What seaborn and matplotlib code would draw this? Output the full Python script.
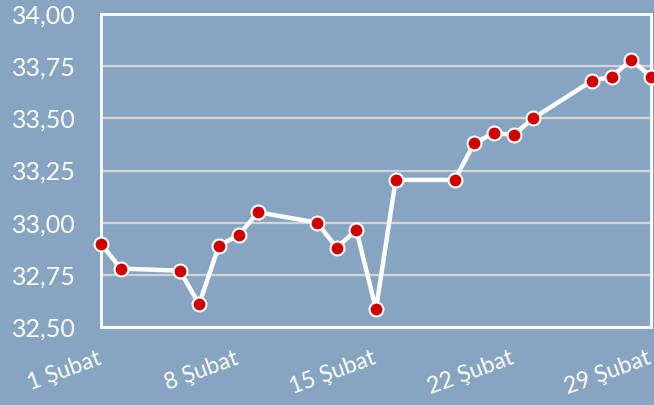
import pandas as pd
import matplotlib
matplotlib.use("Agg")
import matplotlib.pyplot as plt
import matplotlib.ticker as mticker
import matplotlib.transforms as mtransforms
import seaborn as sns

# Şubat 2024 günleri ve değerler
days = [1, 2, 5, 6, 7, 8, 9, 12, 13, 14, 15, 16, 19, 20, 21, 22, 23, 26, 27, 28, 29]
values = [32.90, 32.78, 32.77, 32.61, 32.89, 32.94, 33.05, 33.00, 32.88, 32.965,
          32.585, 33.205, 33.205, 33.38, 33.43, 33.42, 33.50, 33.68, 33.70, 33.78, 33.70]
tick_days = [1, 8, 15, 22, 29]
tick_labels = ['1 Şubat', '8 Şubat', '15 Şubat', '22 Şubat', '29 Şubat']

df = pd.DataFrame({'gun': days, 'deger': values})

bg = '#87a5c0'
sns.set_style('white')
plt.rcParams['font.family'] = ['Lato', 'DejaVu Sans']

fig = plt.figure(figsize=(6.54, 4.05), dpi=100, facecolor=bg)
ax = fig.add_axes([101 / 654, 1 - 327 / 405, (651 - 101) / 654, (327 - 14) / 405])
ax.set_facecolor(bg)

sns.lineplot(data=df, x='gun', y='deger', ax=ax, color='white', linewidth=3.2,
             marker='o', markersize=10, markerfacecolor='#cc0000',
             markeredgecolor='white', markeredgewidth=1.5, clip_on=False, zorder=3)

ax.set_xlim(1, 29)
ax.set_ylim(32.5, 34.0)
ax.yaxis.set_major_locator(mticker.MultipleLocator(0.25))
ax.yaxis.set_major_formatter(mticker.FuncFormatter(lambda v, p: f'{v:.2f}'.replace('.', ',')))
ax.set_xticks(tick_days)
ax.set_xticklabels(tick_labels, rotation=20, ha='right', rotation_mode='anchor')
ax.grid(axis='y', color='#d4d4d4', linewidth=1.6)
ax.set_xlabel('')
ax.set_ylabel('')

for s in ax.spines.values():
    s.set_color('white')
    s.set_linewidth(2)

ax.tick_params(axis='y', colors='white', labelsize=18, length=0, pad=18)
ax.tick_params(axis='x', colors='white', labelsize=16.5, length=0, pad=15)

# etiketleri biraz sola kaydır
shift = mtransforms.ScaledTranslation(-4 / 100, 0, fig.dpi_scale_trans)
for lbl in ax.get_xticklabels():
    lbl.set_transform(lbl.get_transform() + shift)

fig.savefig('out.png', dpi=100, facecolor=bg)
